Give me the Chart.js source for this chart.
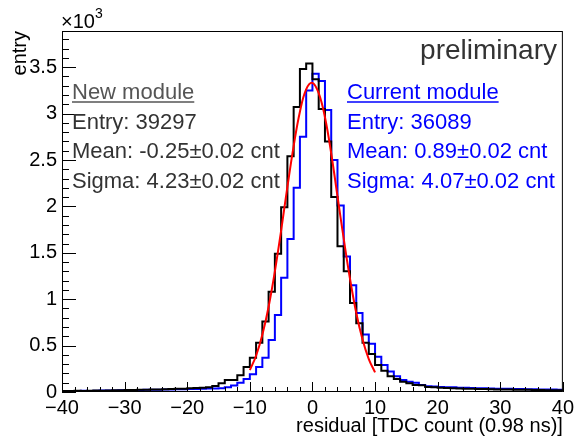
<!DOCTYPE html>
<html>
<head>
<meta charset="utf-8">
<script src="https://cdn.jsdelivr.net/npm/chart.js@4.4.0/dist/chart.umd.min.js"></script>
<style>
  html, body { margin: 0; padding: 0; background: #fff; }
  #c { display: block; }
</style>
</head>
<body>
<canvas id="c" width="578" height="436"></canvas>
<script>
// histograms: 80 bins of 1 TDC count, first bin starts at -40
const BIN_LOW = -40;
const BIN_W = 1;

// entries per bin (x10^3), new module, black
const newModule = [
  0.012, 0.010, 0.013, 0.011, 0.014, 0.015, 0.014, 0.017, 0.018, 0.020,   // -40 .. -31
  0.021, 0.022, 0.024, 0.023, 0.026, 0.028, 0.029, 0.031, 0.034, 0.036,   // -30 .. -21
  0.040, 0.042, 0.047, 0.052, 0.065, 0.095, 0.13, 0.13, 0.18, 0.27,       // -20 .. -11
  0.37, 0.53, 0.76, 1.08, 1.49, 1.99, 2.54, 3.07, 3.48, 3.54,             // -10 .. -1
  3.37, 3.05, 2.70, 2.10, 1.57, 1.30, 0.96, 0.74, 0.53, 0.41,             // 0 .. 9
  0.29, 0.23, 0.17, 0.14, 0.11, 0.094, 0.076, 0.074, 0.053, 0.050,        // 10 .. 19
  0.046, 0.043, 0.041, 0.038, 0.036, 0.035, 0.032, 0.031, 0.030, 0.028,   // 20 .. 29
  0.027, 0.026, 0.025, 0.024, 0.023, 0.022, 0.021, 0.020, 0.020, 0.019    // 30 .. 39
];

// entries per bin (x10^3), current module, blue
const currentModule = [
  0.010, 0.012, 0.011, 0.013, 0.012, 0.014, 0.015, 0.016, 0.017, 0.018,   // -40 .. -31
  0.019, 0.020, 0.022, 0.023, 0.024, 0.025, 0.026, 0.028, 0.029, 0.030,   // -30 .. -21
  0.032, 0.033, 0.035, 0.037, 0.038, 0.040, 0.050, 0.070, 0.10, 0.14,     // -20 .. -11
  0.19, 0.27, 0.37, 0.56, 0.83, 1.23, 1.65, 2.20, 2.75, 3.25,             // -10 .. -1
  3.43, 3.35, 3.04, 2.50, 2.01, 1.46, 1.15, 0.85, 0.62, 0.52,             // 0 .. 9
  0.38, 0.29, 0.22, 0.17, 0.13, 0.11, 0.10, 0.076, 0.062, 0.060,          // 10 .. 19
  0.055, 0.052, 0.050, 0.047, 0.045, 0.043, 0.041, 0.040, 0.038, 0.036,   // 20 .. 29
  0.035, 0.034, 0.032, 0.031, 0.030, 0.029, 0.028, 0.027, 0.026, 0.025    // 30 .. 39
];

// gaussian fit on the new module at each count
const fitX = [-10, -9, -8, -7, -6, -5, -4, -3, -2, -1, 0, 1, 2, 3, 4, 5, 6, 7, 8, 9, 10];
const fitY = [0.235, 0.391, 0.616, 0.919, 1.30, 1.74, 2.21, 2.65, 3.02, 3.26, 3.33,
              3.22, 2.96, 2.57, 2.11, 1.65, 1.22, 0.852, 0.565, 0.355, 0.211];

const xTicks = [-40, -30, -20, -10, 0, 10, 20, 30, 40];
const yTicks = [0, 0.5, 1, 1.5, 2, 2.5, 3, 3.5];

const newStats = ['New module', 'Entry: 39297', 'Mean: -0.25\u00b10.02 cnt', 'Sigma: 4.23\u00b10.02 cnt'];
const curStats = ['Current module', 'Entry: 36089', 'Mean: 0.89\u00b10.02 cnt', 'Sigma: 4.07\u00b10.02 cnt'];

const FONT = '"Liberation Sans", Arial, Helvetica, sans-serif';

// bin contents -> step points (last point closes the final bin)
function toSteps(counts) {
  const pts = counts.map((c, i) => ({ x: BIN_LOW + i * BIN_W, y: c }));
  pts.push({ x: BIN_LOW + counts.length * BIN_W, y: counts[counts.length - 1] });
  return pts;
}

function fmtMinus(v) {
  return v < 0 ? '\u2212' + Math.abs(v) : String(v);
}

// ROOT-like frame, inward ticks and all the free text
const rootDecor = {
  id: 'rootDecor',
  afterDraw(chart) {
    const { ctx, chartArea: a, scales: { x, y } } = chart;
    ctx.save();
    ctx.strokeStyle = '#000';
    ctx.lineWidth = 1;
    ctx.strokeRect(a.left + 0.5, a.top + 0.5, a.right - a.left - 1, a.bottom - a.top - 1);

    ctx.beginPath();
    for (let v = -40; v <= 40; v += 2) {
      const px = Math.round(x.getPixelForValue(v)) + 0.5;
      const len = v % 10 === 0 ? 10 : 5;
      ctx.moveTo(px, a.bottom);
      ctx.lineTo(px, a.bottom - len);
    }
    for (let i = 0; i <= 38; i++) {
      const py = Math.round(y.getPixelForValue(i / 10)) + 0.5;
      const len = i % 5 === 0 ? 14 : 7;
      ctx.moveTo(a.left, py);
      ctx.lineTo(a.left + len, py);
    }
    ctx.stroke();

    // x10^3
    ctx.fillStyle = '#000';
    ctx.textAlign = 'left';
    ctx.textBaseline = 'alphabetic';
    ctx.font = '20px ' + FONT;
    ctx.fillText('\u00d710', 61, 28);
    ctx.font = '14px ' + FONT;
    ctx.fillText('3', 95, 18);

    // axis titles
    ctx.font = '20px ' + FONT;
    ctx.textAlign = 'right';
    ctx.fillText('residual [TDC count (0.98 ns)]', a.right, 432);
    ctx.save();
    ctx.translate(26, a.top);
    ctx.rotate(-Math.PI / 2);
    ctx.fillText('entry', 0, 0);
    ctx.restore();

    ctx.font = '28px ' + FONT;
    ctx.fillStyle = '#333';
    ctx.fillText('preliminary', 557, 59);

    drawStats(ctx, newStats, 72, '#555', '#333');
    drawStats(ctx, curStats, 347, '#0000ff', '#0000ff');
    ctx.restore();
  }
};

function drawStats(ctx, lines, left, titleColor, color) {
  ctx.font = '22px ' + FONT;
  ctx.textAlign = 'left';
  lines.forEach((t, i) => {
    const base = 99 + i * 29.7;
    ctx.fillStyle = i === 0 ? titleColor : color;
    ctx.fillText(t, left, base);
    if (i === 0) {
      const w = ctx.measureText(t).width;
      ctx.strokeStyle = titleColor;
      ctx.lineWidth = 1.5;
      ctx.beginPath();
      ctx.moveTo(left, base + 3);
      ctx.lineTo(left + w, base + 3);
      ctx.stroke();
    }
  });
}

new Chart(document.getElementById('c'), {
  type: 'line',
  data: {
    datasets: [
      {
        label: 'fit',
        data: fitX.map((v, i) => ({ x: v, y: fitY[i] })),
        borderColor: '#ff0000',
        borderWidth: 2,
        pointRadius: 0,
        tension: 0.4,
        order: 0
      },
      {
        label: 'New module',
        data: toSteps(newModule),
        borderColor: '#000',
        borderWidth: 2,
        pointRadius: 0,
        stepped: 'before',
        order: 1
      },
      {
        label: 'Current module',
        data: toSteps(currentModule),
        borderColor: '#0000ff',
        borderWidth: 2,
        pointRadius: 0,
        stepped: 'before',
        order: 2
      }
    ]
  },
  options: {
    responsive: false,
    animation: false,
    devicePixelRatio: 1,
    layout: { padding: { top: 31, right: 15, left: 0, bottom: 0 } },
    plugins: { legend: { display: false }, tooltip: { enabled: false } },
    scales: {
      x: {
        type: 'linear',
        min: -40,
        max: 40,
        grid: { display: false, drawTicks: false },
        border: { display: false },
        afterBuildTicks: s => { s.ticks = xTicks.map(v => ({ value: v })); },
        afterFit: s => { s.height = 44; },
        ticks: {
          autoSkip: false,
          maxRotation: 0,
          padding: 4,
          color: '#000',
          font: { family: FONT, size: 20 },
          callback: v => fmtMinus(v)
        }
      },
      y: {
        type: 'linear',
        min: 0,
        max: 3.89,
        grid: { display: false, drawTicks: false },
        border: { display: false },
        afterBuildTicks: s => { s.ticks = yTicks.map(v => ({ value: v })); },
        afterFit: s => { s.width = 62; },
        ticks: {
          padding: 5,
          color: '#000',
          font: { family: FONT, size: 20 },
          callback: v => String(v)
        }
      }
    }
  },
  plugins: [rootDecor]
});
</script>
</body>
</html>
